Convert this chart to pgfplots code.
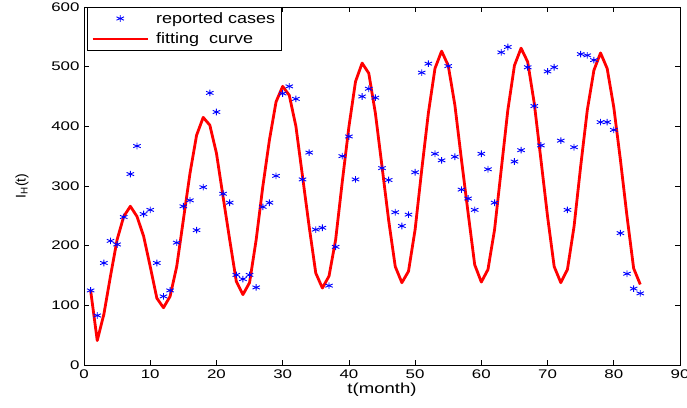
\documentclass[border=0pt]{standalone}
\usepackage{pgfplots}
\pgfplotsset{compat=1.18}
\usepackage{fontspec}
\setmainfont{Liberation Sans}
\newfontfamily\tickfont[FakeStretch=1.35]{Liberation Sans}
\newfontfamily\legfont[FakeStretch=1.2]{Liberation Sans}
\newfontfamily\labfont[FakeStretch=1.28]{Liberation Sans}
\definecolor{mblue}{rgb}{0,0,1}
\definecolor{mred}{rgb}{1,0,0}
\pgfplotstableread{
t v
1 125
2 83
3 171
4 208
5 202
6 248
7 320
8 367
9 253
10 260
11 171
12 115
13 125
14 205
15 266
16 276
17 226
18 298
19 456
20 424
21 287
22 272
23 151
24 144
25 151
26 130
27 265
28 272
29 317
30 455
31 467
32 446
33 311
34 356
35 227
36 230
37 133
38 198
39 350
40 383
41 311
42 450
43 463
44 448
45 330
46 310
47 256
48 233
49 252
50 323
51 490
52 505
53 354
54 343
55 501
56 349
57 294
58 279
59 260
60 354
61 328
62 272
63 524
64 533
65 341
66 360
67 499
68 434
69 368
70 492
71 499
72 376
73 260
74 365
75 521
76 519
77 511
78 407
79 407
80 394
81 221
82 153
83 128
84 120
}\reported
\pgfplotstableread{
t v
1 125
2 41
3 85
4 149
5 210
6 249
7 266
8 249
9 216
10 165
11 112
12 96
13 115
14 165
15 243
16 321
17 385
18 415
19 402
20 355
21 282
22 210
23 140
24 118
25 138
26 210
27 299
28 377
29 441
30 467
31 452
32 400
33 316
34 232
35 154
36 129
37 149
38 210
39 307
40 399
41 475
42 506
43 489
44 422
45 333
46 243
47 165
48 138
49 157
50 227
51 327
52 422
53 497
54 526
55 502
56 436
57 344
58 255
59 168
60 139
61 160
62 227
63 327
64 427
65 502
66 531
67 508
68 438
69 344
70 249
71 165
72 138
73 160
74 232
75 333
76 427
77 494
78 523
79 497
80 432
81 344
82 249
83 162
84 135
}\fitted
\begin{document}
\begin{tikzpicture}
\begin{axis}[
  at={(84pt,42pt)}, anchor=south west,
  scale only axis, width=596pt, height=358pt,
  xmin=0, xmax=90, ymin=0, ymax=600,
  xtick={0,10,...,90}, ytick={0,100,...,600},
  tick align=inside, major tick length=5pt,
  axis line style={line width=0.9pt},
  every tick/.style={black, line width=0.6pt},
  /pgf/number format/assume math mode=true,
  tick label style={font=\tickfont\fontsize{12.5}{14}\selectfont, black},
  xticklabel style={yshift=-1pt},
  yticklabel style={xshift=-1pt},
  xlabel={t(month)},
  xlabel style={font=\labfont\fontsize{14.5}{16}\selectfont, yshift=2pt},
  ylabel={I\textsubscript{H}(t)},
  ylabel style={font=\fontsize{14}{16}\selectfont, yshift=16pt},
  legend cell align=left,
  legend style={at={(0.005,1)}, anchor=north west, draw=black, line width=0.7pt,
    font=\legfont\fontsize{15}{18}\selectfont, inner xsep=4pt, inner ysep=3pt,
    row sep=4pt},
  legend image code/.code={\draw[mark repeat=2,mark phase=2,#1] plot coordinates {(0pt,0pt) (27.5pt,0pt) (55pt,0pt)};},
  /tikz/every odd column/.append style={column sep=5pt},
]
\addplot[only marks, mark=asterisk, mblue, mark size=3.3pt, mark options={line width=0.9pt, xscale=1.3}] table[x=t,y=v] {\reported};
\addlegendentry{reported cases}
\addplot[mred, line width=2.8pt, line join=round] table[x=t,y=v] {\fitted};
\addlegendentry{fitting\ \ curve}
\end{axis}
\pgfresetboundingbox
\useasboundingbox (0,0) rectangle (687pt,407pt);
\end{tikzpicture}
\end{document}
